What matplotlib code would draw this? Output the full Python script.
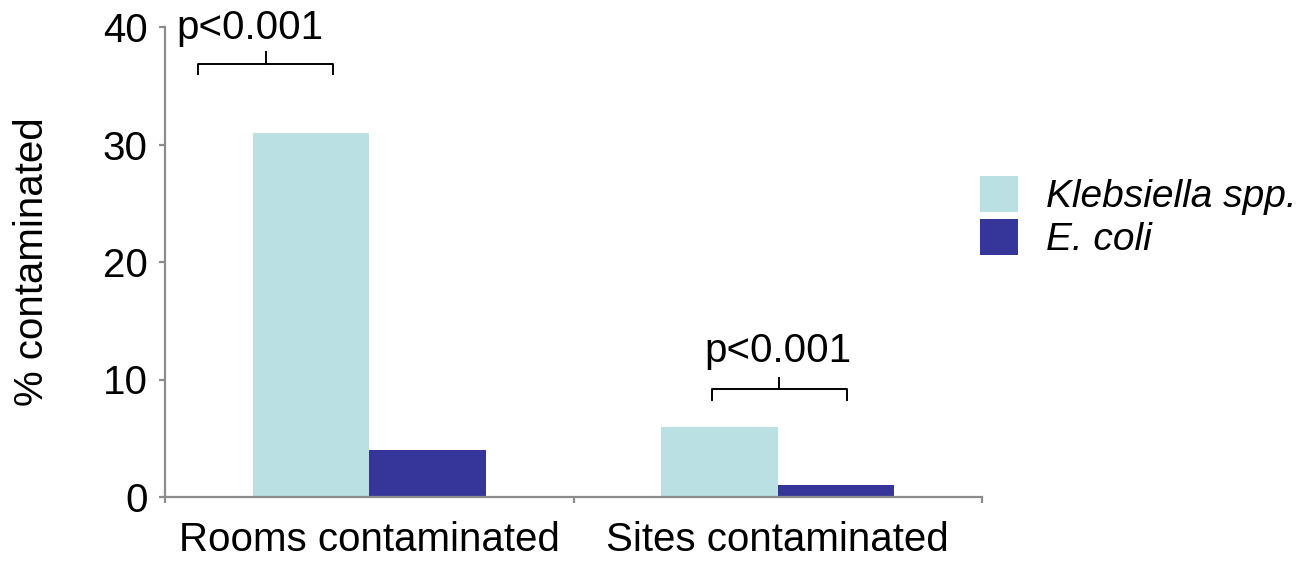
import matplotlib
matplotlib.use("Agg")
import matplotlib.pyplot as plt
import numpy as np

categories = ["Rooms contaminated", "Sites contaminated"]
series_names = ["Klebsiella spp.", "E. coli"]
klebsiella = [31, 6]
ecoli = [4, 1]
y_ticks = [0, 10, 20, 30, 40]
p_labels = ["p<0.001", "p<0.001"]

colors = ["#BAE0E3", "#36369A"]
FS = 29
plt.rcParams['font.family'] = ['Liberation Sans', 'DejaVu Sans']

fig = plt.figure(figsize=(13.08, 5.61), dpi=100)
ax = fig.add_axes([165/1308, 1 - 497/561, (982-165)/1308, (497-27)/561])

x = np.arange(len(categories))
w = 1/3.5
b1 = ax.bar(x - w/2, klebsiella, w, color=colors[0], label=series_names[0])
b2 = ax.bar(x + w/2, ecoli, w, color=colors[1], label=series_names[1])

ax.set_xlim(-0.5, len(categories) - 0.5)
ax.set_ylim(0, 40)
ax.set_yticks(y_ticks)
ax.set_yticklabels([str(t) for t in y_ticks])

ax.set_xticks(np.arange(len(categories) + 1) - 0.5)
ax.set_xticklabels([])
ax.set_xticks(x, minor=True)
ax.set_xticklabels(categories, minor=True)

spine_c = "#8C8C8C"
for s in ["top", "right"]:
    ax.spines[s].set_visible(False)
for s in ["left", "bottom"]:
    ax.spines[s].set_color(spine_c)
    ax.spines[s].set_linewidth(1.6)
ax.tick_params(axis="both", which="major", color=spine_c, width=1.6, length=4.5,
               labelsize=FS, direction="out")
ax.tick_params(axis="y", pad=8)
ax.tick_params(axis="x", which="minor", length=0, labelsize=FS, pad=17)

ax.set_ylabel("% contaminated", fontsize=FS)
ax.yaxis.set_label_coords(-0.14, 0.5)

# significance brackets (data coords)
brackets = [
    # x_left, x_right, x_mid, y_line, y_hook, y_mid, text_x, text_y
    (-0.419, -0.088, -0.253, 36.85, 36.0, 37.85, -0.292, 39.0),
    (0.839, 1.1695, 1.003, 9.19, 8.26, 10.13, 1.0, 11.5),
]
for (xl, xr, xm, yl, yh, ym, tx, ty), lab in zip(brackets, p_labels):
    ax.plot([xl, xl, xr, xr], [yh, yl, yl, yh], color="black", lw=1.4,
            solid_joinstyle="round", clip_on=False)
    ax.plot([xm, xm], [yl, ym], color="black", lw=1.4, clip_on=False)
    ax.text(tx, ty, lab, ha="center", va="baseline", fontsize=FS, clip_on=False)

leg = fig.legend(handles=[b1, b2], labels=series_names,
                 loc="upper left", bbox_to_anchor=(980/1308, 1 - 176/561),
                 frameon=False, handlelength=0.98, handleheight=1.05,
                 handletextpad=0.72, labelspacing=0.1, borderpad=0, borderaxespad=0,
                 prop={"style": "italic", "size": 28})

fig.savefig("out.png", dpi=100)
